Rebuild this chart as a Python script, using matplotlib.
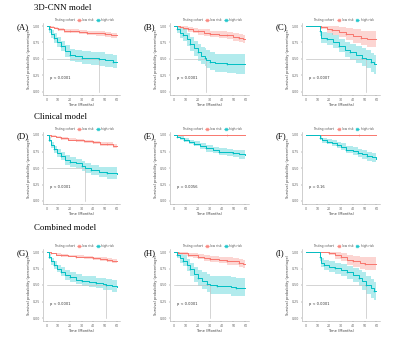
import numpy as np
import matplotlib
matplotlib.use('Agg')
import matplotlib.pyplot as plt
from matplotlib.lines import Line2D

# rows: [time (months), survival, lower CI, upper CI]
A_low = [[0, 1, 1, 1], [3, 0.99, 0.98, 1], [6, 0.97, 0.95, 0.99], [10, 0.95, 0.92, 0.97], [15, 0.93, 0.90, 0.96],
         [20, 0.92, 0.89, 0.95], [28, 0.91, 0.88, 0.94], [35, 0.90, 0.86, 0.93], [42, 0.89, 0.85, 0.92],
         [50, 0.88, 0.84, 0.91], [55, 0.86, 0.82, 0.90], [60, 0.86, 0.82, 0.90]]
A_high = [[0, 1, 1, 1], [2, 0.95, 0.90, 1], [4, 0.88, 0.82, 0.94], [6, 0.82, 0.75, 0.89], [9, 0.76, 0.68, 0.83],
          [12, 0.70, 0.62, 0.78], [16, 0.62, 0.53, 0.71], [20, 0.56, 0.47, 0.65], [24, 0.54, 0.45, 0.63],
          [30, 0.52, 0.43, 0.62], [38, 0.51, 0.41, 0.61], [45, 0.50, 0.40, 0.60], [50, 0.48, 0.38, 0.58],
          [57, 0.46, 0.36, 0.56], [60, 0.46, 0.36, 0.56]]
B_low = [[0, 1, 1, 1], [5, 0.99, 0.97, 1], [8, 0.97, 0.94, 1], [12, 0.95, 0.91, 0.99], [16, 0.93, 0.89, 0.97],
         [20, 0.92, 0.87, 0.96], [25, 0.90, 0.85, 0.95], [30, 0.88, 0.83, 0.93], [38, 0.87, 0.82, 0.92],
         [45, 0.86, 0.80, 0.91], [50, 0.84, 0.78, 0.90], [55, 0.82, 0.76, 0.88], [58, 0.80, 0.74, 0.86],
         [60, 0.80, 0.74, 0.86]]
B_high = [[0, 1, 1, 1], [3, 0.95, 0.89, 1], [5, 0.90, 0.82, 0.98], [8, 0.87, 0.78, 0.96], [11, 0.80, 0.70, 0.90],
          [14, 0.73, 0.62, 0.84], [17, 0.66, 0.54, 0.78], [20, 0.60, 0.47, 0.73], [23, 0.55, 0.42, 0.68],
          [26, 0.52, 0.39, 0.66], [27, 0.49, 0.36, 0.63], [30, 0.46, 0.33, 0.60], [35, 0.44, 0.30, 0.58],
          [45, 0.43, 0.29, 0.57], [52, 0.42, 0.28, 0.57], [60, 0.42, 0.28, 0.57]]
C_low = [[0, 1, 1, 1], [13, 0.98, 0.95, 1], [18, 0.96, 0.90, 1], [22, 0.94, 0.87, 1], [28, 0.91, 0.83, 0.99],
         [34, 0.88, 0.79, 0.97], [40, 0.85, 0.75, 0.95], [47, 0.82, 0.71, 0.93], [52, 0.80, 0.68, 0.92],
         [60, 0.80, 0.68, 0.92]]
C_high = [[0, 1, 1, 1], [12, 0.92, 0.85, 0.99], [13, 0.82, 0.74, 0.91], [18, 0.80, 0.71, 0.89],
          [23, 0.76, 0.67, 0.86], [28, 0.70, 0.60, 0.81], [33, 0.64, 0.53, 0.76], [38, 0.60, 0.48, 0.72],
          [43, 0.56, 0.44, 0.69], [48, 0.52, 0.39, 0.66], [51, 0.50, 0.37, 0.64], [55, 0.45, 0.31, 0.59],
          [58, 0.42, 0.28, 0.56], [60, 0.42, 0.28, 0.56]]
D_low = [[0, 1, 1, 1], [4, 0.99, 0.98, 1], [8, 0.97, 0.95, 0.99], [12, 0.95, 0.93, 0.97], [18, 0.93, 0.91, 0.95],
         [25, 0.92, 0.90, 0.94], [32, 0.91, 0.88, 0.93], [40, 0.89, 0.86, 0.91], [46, 0.87, 0.84, 0.90],
         [52, 0.86, 0.83, 0.89], [57, 0.84, 0.81, 0.87], [60, 0.84, 0.81, 0.87]]
D_high = [[0, 1, 1, 1], [2, 0.93, 0.89, 0.97], [4, 0.85, 0.80, 0.90], [6, 0.79, 0.73, 0.84], [9, 0.73, 0.67, 0.79],
          [12, 0.68, 0.62, 0.75], [16, 0.62, 0.55, 0.69], [20, 0.59, 0.52, 0.66], [25, 0.57, 0.50, 0.64],
          [30, 0.53, 0.46, 0.61], [33, 0.50, 0.43, 0.58], [38, 0.47, 0.40, 0.55], [45, 0.44, 0.37, 0.52],
          [52, 0.42, 0.34, 0.51], [60, 0.41, 0.33, 0.50]]
E_low = [[0, 1, 1, 1], [60, 1, 1, 1]]
E_high = [[0, 1, 1, 1], [3, 0.97, 0.95, 0.99], [5, 0.95, 0.92, 0.98], [9, 0.93, 0.90, 0.96], [13, 0.90, 0.86, 0.93],
          [17, 0.87, 0.83, 0.91], [22, 0.84, 0.79, 0.88], [27, 0.80, 0.75, 0.85], [33, 0.77, 0.72, 0.82],
          [38, 0.75, 0.70, 0.80], [45, 0.74, 0.68, 0.79], [50, 0.73, 0.67, 0.78], [55, 0.71, 0.64, 0.77],
          [60, 0.69, 0.62, 0.76]]
F_low = [[0, 1, 1, 1], [60, 1, 1, 1]]
F_high = [[0, 1, 1, 1], [12, 0.96, 0.93, 0.99], [14, 0.92, 0.88, 0.96], [18, 0.90, 0.86, 0.94],
          [22, 0.88, 0.83, 0.92], [27, 0.85, 0.80, 0.90], [30, 0.82, 0.77, 0.88], [34, 0.78, 0.72, 0.84],
          [40, 0.76, 0.70, 0.82], [44, 0.73, 0.67, 0.79], [48, 0.71, 0.64, 0.77], [52, 0.68, 0.61, 0.75],
          [56, 0.66, 0.59, 0.73], [60, 0.64, 0.57, 0.71]]
G_low = [[0, 1, 1, 1], [4, 0.98, 0.97, 0.99], [8, 0.96, 0.94, 0.98], [12, 0.95, 0.93, 0.97], [18, 0.94, 0.92, 0.96],
         [25, 0.93, 0.91, 0.95], [32, 0.92, 0.90, 0.94], [40, 0.91, 0.88, 0.93], [46, 0.89, 0.86, 0.92],
         [52, 0.88, 0.85, 0.91], [56, 0.86, 0.83, 0.89], [60, 0.86, 0.83, 0.89]]
G_high = [[0, 1, 1, 1], [2, 0.93, 0.89, 0.97], [4, 0.86, 0.81, 0.91], [6, 0.81, 0.75, 0.86], [9, 0.75, 0.69, 0.81],
          [12, 0.70, 0.64, 0.77], [16, 0.65, 0.58, 0.72], [20, 0.62, 0.55, 0.69], [25, 0.58, 0.51, 0.66],
          [30, 0.56, 0.49, 0.64], [36, 0.55, 0.47, 0.63], [42, 0.53, 0.45, 0.61], [48, 0.51, 0.43, 0.60],
          [51, 0.50, 0.42, 0.59], [56, 0.48, 0.39, 0.57], [60, 0.47, 0.38, 0.56]]
H_low = [[0, 1, 1, 1], [4, 0.99, 0.97, 1], [8, 0.98, 0.95, 1], [12, 0.96, 0.93, 0.99], [16, 0.95, 0.91, 0.98],
         [20, 0.93, 0.89, 0.97], [25, 0.91, 0.87, 0.95], [30, 0.90, 0.85, 0.94], [38, 0.88, 0.83, 0.93],
         [45, 0.87, 0.81, 0.92], [50, 0.86, 0.80, 0.91], [55, 0.84, 0.78, 0.89], [58, 0.82, 0.76, 0.88],
         [60, 0.82, 0.76, 0.88]]
H_high = [[0, 1, 1, 1], [3, 0.96, 0.91, 1], [5, 0.91, 0.84, 0.98], [8, 0.87, 0.79, 0.95], [11, 0.80, 0.71, 0.89],
          [14, 0.74, 0.64, 0.84], [17, 0.66, 0.55, 0.77], [20, 0.60, 0.48, 0.72], [24, 0.56, 0.44, 0.69],
          [28, 0.52, 0.40, 0.66], [30, 0.50, 0.37, 0.64], [36, 0.49, 0.36, 0.63], [48, 0.47, 0.34, 0.62],
          [52, 0.46, 0.33, 0.61], [60, 0.46, 0.33, 0.61]]
I_low = [[0, 1, 1, 1], [20, 0.98, 0.95, 1], [25, 0.95, 0.90, 1], [30, 0.92, 0.86, 0.99], [35, 0.88, 0.81, 0.96],
         [40, 0.86, 0.78, 0.94], [46, 0.84, 0.75, 0.93], [50, 0.82, 0.72, 0.92], [60, 0.82, 0.72, 0.92]]
I_high = [[0, 1, 1, 1], [12, 0.92, 0.86, 0.98], [13, 0.84, 0.77, 0.91], [16, 0.80, 0.72, 0.88],
          [20, 0.78, 0.70, 0.86], [25, 0.76, 0.67, 0.84], [30, 0.73, 0.64, 0.82], [35, 0.69, 0.59, 0.79],
          [40, 0.65, 0.54, 0.76], [45, 0.61, 0.49, 0.73], [48, 0.56, 0.43, 0.69], [51, 0.50, 0.37, 0.64],
          [55, 0.45, 0.31, 0.59], [58, 0.41, 0.27, 0.55], [60, 0.41, 0.27, 0.55]]

panel_labels = ['(A)', '(B)', '(C)', '(D)', '(E)', '(F)', '(G)', '(H)', '(I)']
p_values = ['p < 0.0001', 'p < 0.0001', 'p = 0.0007', 'p < 0.0001', 'p = 0.0056', 'p = 0.16',
            'p < 0.0001', 'p < 0.0001', 'p < 0.0001']
row_titles = ['3D-CNN model', 'Clinical model', 'Combined model']
x_ticks = [0, 10, 20, 30, 40, 50, 60]
y_ticks = [0.00, 0.25, 0.50, 0.75, 1.00]

curves = [(A_low, A_high), (B_low, B_high), (C_low, C_high),
          (D_low, D_high), (E_low, E_high), (F_low, F_high),
          (G_low, G_high), (H_low, H_high), (I_low, I_high)]

LOW_COLOR = '#F8766D'
HIGH_COLOR = '#00BFC4'
W, H = 400, 340

# axes boxes in pixels: left, top, right, bottom
col_px = [(43, 120), (170, 249), (302, 380)]
row_px = [(22.7, 95.3), (131.7, 204.3), (248.7, 321.3)]
title_y = [8, 117, 228]

fig = plt.figure(figsize=(W / 100, H / 100), dpi=100)


def draw_curve(ax, data, color, band):
    arr = np.array(data, dtype=float)
    t, s, lo, hi = arr[:, 0], arr[:, 1], arr[:, 2], arr[:, 3]
    if band:
        ax.fill_between(t, lo, hi, step='post', color=color, alpha=0.3, lw=0)
    ax.step(t, s, where='post', color=color, lw=0.7)
    ax.plot(t[1:-1:2], s[1:-1:2], '+', color=color, ms=1.5, mew=0.4)


def median_time(data):
    for row in data:
        if row[1] <= 0.5:
            return row[0]
    return None


for i, (low, high) in enumerate(curves):
    r, c = divmod(i, 3)
    x0, x1 = col_px[c]
    y0, y1 = row_px[r]
    ax = fig.add_axes([x0 / W, 1 - y1 / H, (x1 - x0) / W, (y1 - y0) / H])

    med = median_time(high)
    if med is not None:
        ax.plot([0, med, med], [0.5, 0.5, 0], color='#c4c4c4', lw=0.5)

    flat_low = len(low) == 2
    draw_curve(ax, low, LOW_COLOR, not flat_low)
    draw_curve(ax, high, HIGH_COLOR, True)
    if flat_low:
        ax.plot([45], [1.0], '+', color=LOW_COLOR, ms=1.5, mew=0.4)

    ax.text(3, 0.2, p_values[i], fontsize=2.6, color='#333333')

    ax.set_xlim(-3, 63)
    ax.set_ylim(-0.05, 1.05)
    ax.set_xticks(x_ticks)
    ax.set_yticks(y_ticks)
    ax.set_yticklabels([f'{v:.2f}' for v in y_ticks])
    ax.tick_params(labelsize=2.3, length=1, width=0.3, pad=1, colors='#666666')
    for side in ['top', 'right']:
        ax.spines[side].set_visible(False)
    for side in ['left', 'bottom']:
        ax.spines[side].set_linewidth(0.4)
        ax.spines[side].set_color('#aaaaaa')
    ax.set_xlabel('Time (Months)', fontsize=2.6, labelpad=1, color='#444444')
    ax.set_ylabel('Survival probability (percentage)', fontsize=2.6, labelpad=1.5, color='#444444')

    handles = [Line2D([], [], color='none'),
               Line2D([], [], color=LOW_COLOR, marker='s', ms=2, lw=0.6, mfc=LOW_COLOR, alpha=0.6),
               Line2D([], [], color=HIGH_COLOR, marker='s', ms=2, lw=0.6, mfc=HIGH_COLOR, alpha=0.6)]
    labels = ['Testing cohort', 'low risk', 'high risk']
    ax.legend(handles, labels, ncol=3, loc='lower center', bbox_to_anchor=(0.5, 0.99),
              fontsize=2.2, frameon=False, handlelength=1.2, handletextpad=0.4, columnspacing=0.8,
              borderpad=0.1, labelcolor='#555555')

    fig.text((x0 - 26) / W, 1 - 27 / H - (y0 - 22.7) / H, panel_labels[i], fontsize=6.3,
             family='Liberation Serif', va='center', ha='left')

for r, title in enumerate(row_titles):
    fig.text(34 / W, 1 - title_y[r] / H, title, fontsize=6.4, family='Liberation Serif', va='center', ha='left')

fig.savefig('out.png', dpi=100)
